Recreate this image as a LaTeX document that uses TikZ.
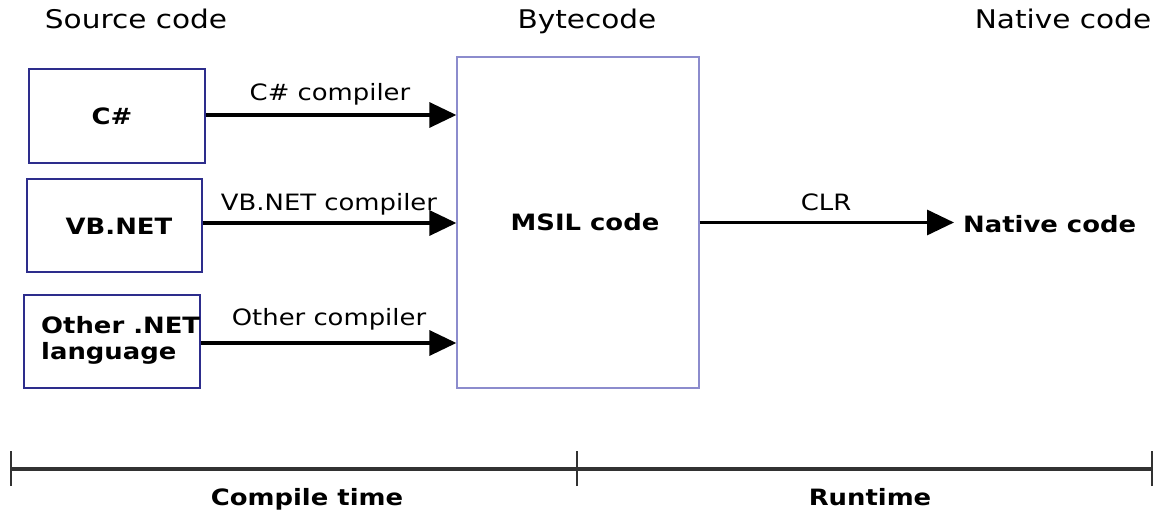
\documentclass[tikz,border=0pt]{standalone}
\usepackage{fontspec}
\setmainfont{DejaVu Sans}[FakeStretch=1.15]
\usetikzlibrary{arrows.meta}
\definecolor{boxblue}{RGB}{45,45,140}
\definecolor{msilblue}{RGB}{140,140,205}
\definecolor{tline}{RGB}{50,50,50}
\tikzset{
  txt/.style={inner sep=0pt, anchor=base, font=\fontsize{22.5}{26}\selectfont},
  htxt/.style={txt, font=\fontsize{25.7}{30}\selectfont},
  btxt/.style={txt, font=\fontsize{22.5}{26}\selectfont\bfseries},
  srcbox/.style={draw=boxblue, line width=1.5pt, inner sep=0pt},
  msilbox/.style={draw=msilblue, line width=1.3pt, inner sep=0pt},
  arr/.style={line width=3.3pt, -{Triangle[length=27pt,width=25pt]}},
  tl/.style={draw=tline, line width=3.5pt},
  tick/.style={draw=tline, line width=1.4pt},
}
\begin{document}
\begin{tikzpicture}[x=1pt,y=-1pt]
\useasboundingbox (0,0) rectangle (1156,511);
% headers
\node[htxt] (hsrc) at (136,29) {Source code};
\node[htxt] (hbyte) at (587,29) {Bytecode};
\node[htxt] (hnat) at (1063,29) {Native code};
% source boxes
\node[srcbox, minimum width=176pt, minimum height=94pt] (cs) at (117,116) {};
\node[srcbox, minimum width=175pt, minimum height=93pt] (vb) at (114.5,225.5) {};
\node[srcbox, minimum width=176pt, minimum height=93pt] (ot) at (112,341.5) {};
\node[btxt] (cst) at (112,124) {C\#};
\node[btxt] (vbt) at (119,234) {VB.NET};
\node[btxt, anchor=base west] (ot1) at (41,333) {Other .NET};
\node[btxt, anchor=base west] (ot2) at (41,359) {language};
% MSIL box
\node[msilbox, minimum width=242pt, minimum height=331pt] (msil) at (578,222.5) {};
\node[btxt] (msilt) at (585,230) {MSIL code};
% native code
\node[btxt, anchor=base west] (nat) at (963,232) {Native code};
% arrows
\draw[arr] ([yshift=1pt]cs.east) -- ([yshift=1pt]cs.east -| msil.west);
\draw[arr] ([yshift=2.5pt]vb.east) -- ([yshift=2.5pt]vb.east -| msil.west);
\draw[arr] ([yshift=-1.5pt]ot.east) -- ([yshift=-1.5pt]ot.east -| msil.west);
\draw[arr] (msil.east) -- ([xshift=-9pt]msil.east -| nat.west);
% arrow labels
\node[txt] (l1) at (330,100) {C\# compiler};
\node[txt] (l2) at (329,210) {VB.NET compiler};
\node[txt] (l3) at (329,325) {Other compiler};
\node[txt] (l4) at (826,210) {CLR};
% timeline
\coordinate (t1) at (11,469);
\coordinate (t2) at (577,469);
\coordinate (t3) at (1152,469);
\draw[tl] (t1) -- (t3);
\foreach \c in {t1,t2,t3}{
  \draw[tick] ([yshift=-17pt]\c) -- ([yshift=18pt]\c);
}
\node[btxt] (ct) at (307,505) {Compile time};
\node[btxt] (rt) at (870,505) {Runtime};
\end{tikzpicture}
\end{document}
